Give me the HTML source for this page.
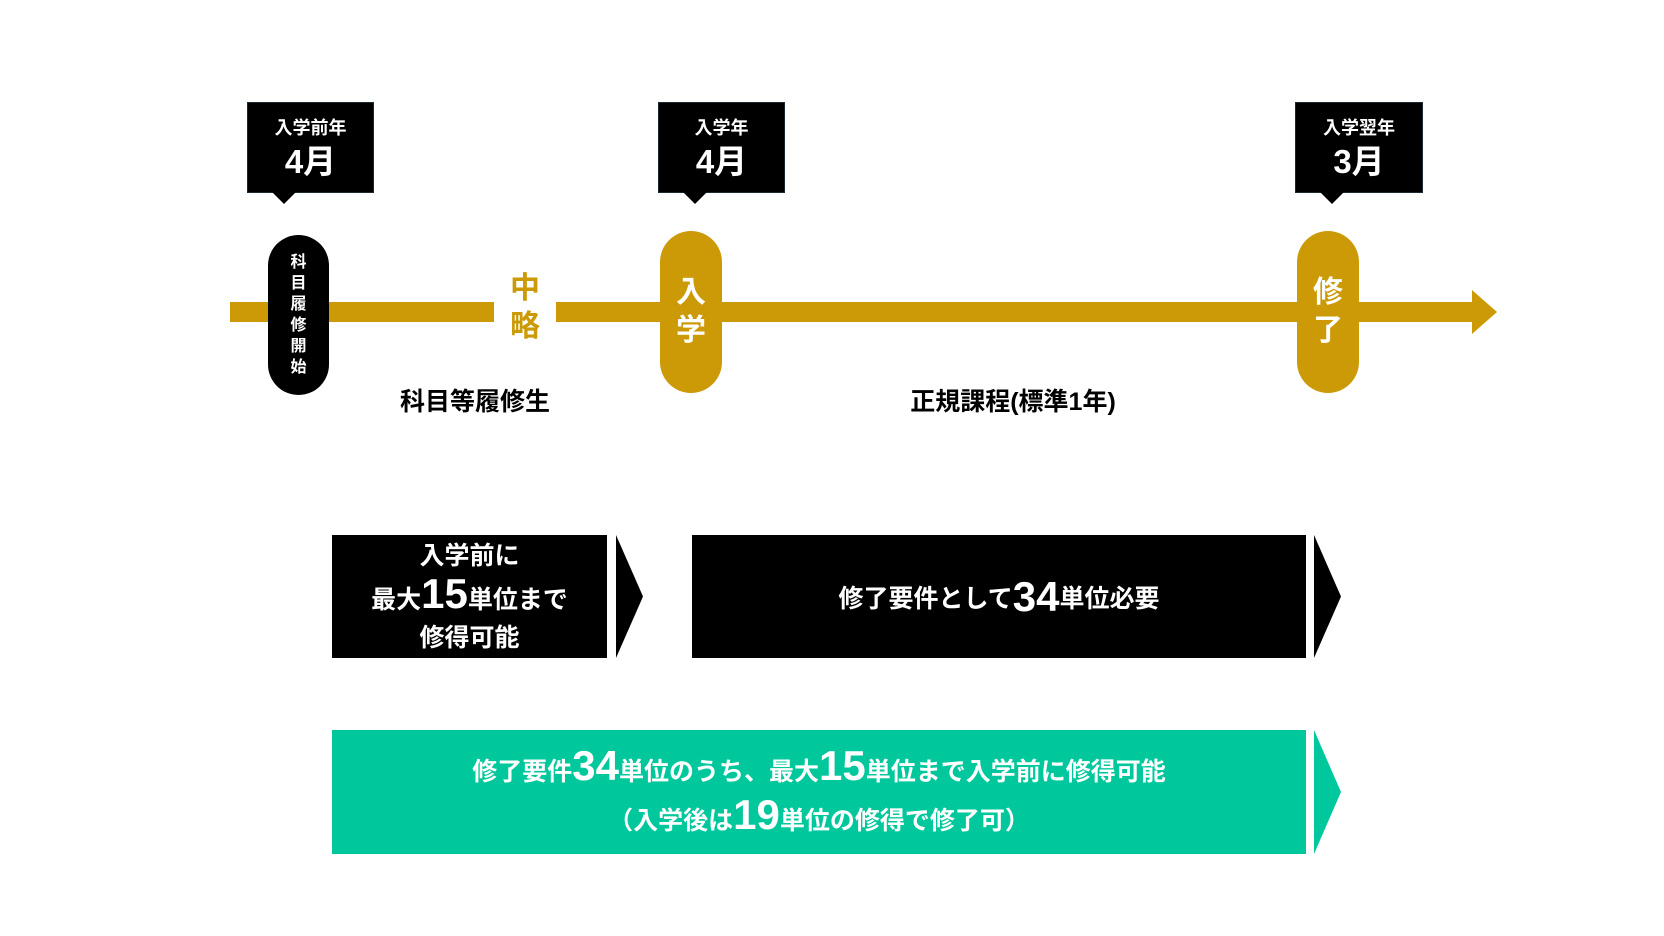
<!DOCTYPE html>
<html><head><meta charset="utf-8"><style>
body{margin:0;width:1664px;height:936px;background:#fff;position:relative;overflow:hidden;font-family:"Liberation Sans","Noto Sans CJK JP",sans-serif;}
.a{position:absolute;}
.box{background:#000;color:#fff;text-align:center;font-weight:bold;border:1px solid #1a2a30;box-sizing:border-box;}
.box .s{font-size:18px;margin-top:14px;line-height:22px}
.box .b{font-size:33px;line-height:42px;margin-top:2px}
.tip{width:0;height:0;border-left:12px solid transparent;border-right:12px solid transparent;border-top:12px solid #000;}
.pill{border-radius:31px;color:#fff;font-weight:bold;display:flex;align-items:center;justify-content:center;text-align:center;}
.blk{background:#000;color:#fff;font-weight:bold;display:flex;align-items:center;justify-content:center;text-align:center;font-size:25px;}
.big{font-size:42px;}
</style></head><body>
<div class="a" style="left:230px;top:302px;width:264px;height:20px;background:#cc9a06"></div>
<div class="a" style="left:556px;top:302px;width:920px;height:20px;background:#cc9a06"></div>
<svg class="a" style="left:1472px;top:290px" width="26" height="44"><polygon points="0,0 25,22 0,44" fill="#cc9a06"/></svg>
<div class="a" style="left:505px;top:270px;width:40px;font-size:30px;line-height:38px;color:#cc9a06;font-weight:bold;text-align:center">中<br>略</div>
<div class="a box" style="left:247px;top:102px;width:127px;height:91px"><div class="s">入学前年</div><div class="b">4月</div></div>
<div class="a tip" style="left:272px;top:192px"></div>
<div class="a box" style="left:658px;top:102px;width:127px;height:91px"><div class="s">入学年</div><div class="b">4月</div></div>
<div class="a tip" style="left:683px;top:192px"></div>
<div class="a box" style="left:1295px;top:102px;width:128px;height:91px"><div class="s">入学翌年</div><div class="b">3月</div></div>
<div class="a tip" style="left:1320px;top:192px"></div>
<div class="a pill" style="left:268px;top:235px;width:61px;height:160px;background:#000;font-size:16px;line-height:21px">科<br>目<br>履<br>修<br>開<br>始</div>
<div class="a pill" style="left:660px;top:231px;width:62px;height:162px;background:#cc9a06;font-size:30px;line-height:38px">入<br>学</div>
<div class="a pill" style="left:1297px;top:231px;width:62px;height:162px;background:#cc9a06;font-size:30px;line-height:38px">修<br>了</div>
<div class="a" style="left:375px;top:382px;width:200px;text-align:center;font-size:25px;font-weight:bold">科目等履修生</div>
<div class="a" style="left:873px;top:382px;width:280px;text-align:center;font-size:25px;font-weight:bold">正規課程(標準1年)</div>
<div class="a blk" style="left:332px;top:535px;width:275px;height:123px;flex-direction:column"><div style="line-height:32px">入学前に</div><div style="line-height:44px">最大<span class="big">15</span>単位まで</div><div style="line-height:32px">修得可能</div></div>
<svg class="a" style="left:616px;top:535px" width="28" height="123"><polygon points="0,0 27,61.5 0,123" fill="#000"/></svg>
<div class="a blk" style="left:692px;top:535px;width:614px;height:123px">修了要件として<span class="big">34</span>単位必要</div>
<svg class="a" style="left:1314px;top:535px" width="28" height="123"><polygon points="0,0 27,61.5 0,123" fill="#000"/></svg>
<div class="a blk" style="left:332px;top:730px;width:974px;height:124px;background:#00c79c;flex-direction:column"><div style="line-height:46px">修了要件<span class="big">34</span>単位のうち、最大<span class="big">15</span>単位まで入学前に修得可能</div><div style="line-height:40px">（入学後は<span class="big">19</span>単位の修得で修了可）</div></div>
<svg class="a" style="left:1314px;top:730px" width="28" height="124"><polygon points="0,0 27,62 0,124" fill="#00c79c"/></svg>
</body></html>
